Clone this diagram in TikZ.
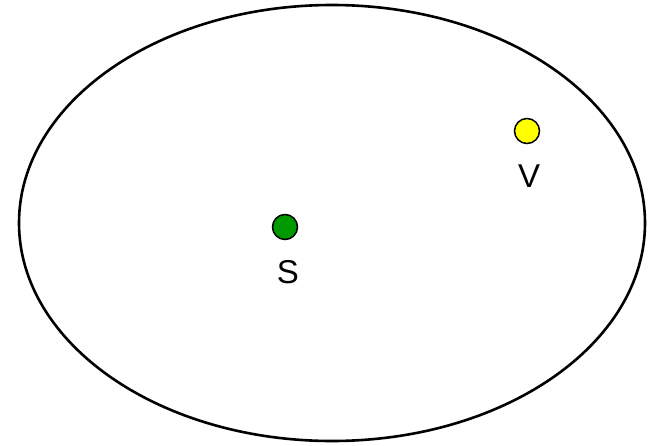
\documentclass[tikz,border=0pt]{standalone}
\usepackage{fontspec}
\setmainfont{Liberation Sans}
\usepackage{tikz}

\begin{document}
\begin{tikzpicture}[x=1pt,y=-1pt,font=\fontsize{33}{36}\selectfont,
  dot/.style={circle,draw=black,line width=1.5pt,minimum size=25pt,inner sep=0pt}]
  \useasboundingbox (0,0) rectangle (650,445);
  \draw[line width=2.6pt] (332,223) ellipse [x radius=313, y radius=218];
  \node[dot,fill={rgb,255:red,0;green,153;blue,0}] (s) at (285,227) {};
  \node[dot,fill={rgb,255:red,255;green,255;blue,0}] (v) at (527,131) {};
  \node[inner sep=0pt] (slabel) at (288,272) {S};
  \node[inner sep=0pt] (vlabel) at (529,176) {V};
\end{tikzpicture}
\end{document}
